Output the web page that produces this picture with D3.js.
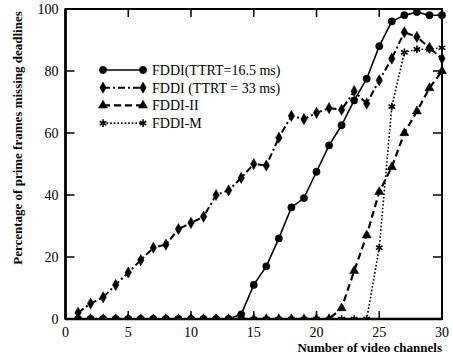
<!DOCTYPE html>
<html>
<head>
<meta charset="utf-8">
<script src="https://cdn.jsdelivr.net/npm/d3@7"></script>
<style>
  body { margin: 0; background: white; }
  svg { display: block; font-family: "Liberation Serif", "DejaVu Serif", serif; }
</style>
</head>
<body>
<svg id="chart"></svg>
<script>
// Percentage of prime frames missing deadlines vs number of video channels
var channels = d3.range(1, 31);

var fddi165 = [0, 0, 0, 0, 0, 0, 0, 0, 0, 0, 0, 0, 0, 1.5, 11, 17, 26, 36, 39, 47.5,
               56, 62.5, 70.5, 77.5, 88, 96, 98, 99, 98, 98];
var fddi33 = [2, 5, 7, 11, 15, 19, 23, 24, 29, 31, 33, 40, 41.5, 45.5, 50, 49.5, 58.5, 65.5, 64.5, 66.5,
              68, 67.5, 73.5, 69.5, 77, 84, 92.5, 91, 87.5, 84];
var fddi2 = [0, 0, 0, 0, 0, 0, 0, 0, 0, 0, 0, 0, 0, 0, 0, 0, 0, 0, 0, 0,
             0, 3.5, 15.5, 27, 41, 49, 60, 67, 74.5, 80];
var fddiM = [0, 0, 0, 0, 0, 0, 0, 0, 0, 0, 0, 0, 0, 0, 0, 0, 0, 0, 0, 0,
             0, 0, 0, 0, 23, 68.5, 86, 87, 87, 87.5];

var seriesNames = ["FDDI(TTRT=16.5 ms)", "FDDI (TTRT = 33 ms)", "FDDI-II", "FDDI-M"];
var xTicks = [0, 5, 10, 15, 20, 25, 30];
var yTicks = [0, 20, 40, 60, 80, 100];

var dimensions = {
    width: 453,
    height: 355,
    margin: { top: 9, bottom: 36, right: 11, left: 65.5 }
};

var svg = d3.select("#chart")
    .attr("width", dimensions.width)
    .attr("height", dimensions.height);

var xScale = d3.scaleLinear()
    .domain([0, 30])
    .range([dimensions.margin.left, dimensions.width - dimensions.margin.right]);

var yScale = d3.scaleLinear()
    .domain([0, 100])
    .range([dimensions.height - dimensions.margin.bottom, dimensions.margin.top]);

var x0 = xScale(0), x1 = xScale(30), y0 = yScale(0), y1 = yScale(100);

svg.append("clipPath")
    .attr("id", "plot-clip")
    .append("rect")
    .attr("x", x0).attr("y", y1 - 6)
    .attr("width", x1 - x0 + 6).attr("height", y0 - y1 + 5);

var series = [
    { name: seriesNames[0], values: fddi165, dash: null, width: 1.6, symbol: d3.symbolCircle, size: 42 },
    { name: seriesNames[1], values: fddi33, dash: "7,3,2,3", width: 2, symbol: d3.symbolDiamond, size: 36 },
    { name: seriesNames[2], values: fddi2, dash: "7,4", width: 2.2, symbol: d3.symbolTriangle, size: 36 },
    { name: seriesNames[3], values: fddiM, dash: "1.6,2", width: 1.6, symbol: d3.symbolAsterisk, size: 40 }
];

var line = d3.line()
    .x(d => xScale(d.x))
    .y(d => yScale(d.y));

var plot = svg.append("g").attr("clip-path", "url(#plot-clip)");

series.forEach(s => {
    var pts = channels.map((c, i) => ({ x: c, y: s.values[i] }));

    plot.append("path")
        .attr("d", line(pts))
        .attr("fill", "none")
        .attr("stroke", "black")
        .attr("stroke-width", s.width)
        .attr("stroke-dasharray", s.dash);

    plot.selectAll(null)
        .data(pts)
        .enter()
        .append("path")
        .attr("transform", d => `translate(${xScale(d.x)},${yScale(d.y)})`)
        .attr("d", d3.symbol().type(s.symbol).size(s.size))
        .attr("fill", "black")
        .attr("stroke", "black")
        .attr("stroke-width", s.symbol === d3.symbolAsterisk ? 1.6 : 0.5);
});

// frame
svg.append("rect")
    .attr("x", x0).attr("y", y1)
    .attr("width", x1 - x0).attr("height", y0 - y1)
    .attr("fill", "none")
    .attr("stroke", "black")
    .attr("stroke-width", 2);

svg.append("line")
    .attr("x1", x0).attr("x2", x0).attr("y1", y1).attr("y2", y0)
    .attr("stroke", "black").attr("stroke-width", 2.6);
svg.append("line")
    .attr("x1", x0).attr("x2", x1).attr("y1", y0).attr("y2", y0)
    .attr("stroke", "black").attr("stroke-width", 2.6);

// inward ticks
svg.selectAll(".xtick-b")
    .data(xTicks.slice(1, -1))
    .enter()
    .append("line")
    .attr("x1", d => xScale(d)).attr("x2", d => xScale(d))
    .attr("y1", y0).attr("y2", y0 - 8)
    .attr("stroke", "black").attr("stroke-width", 1.5);

svg.selectAll(".xtick-t")
    .data(xTicks.slice(1, -1))
    .enter()
    .append("line")
    .attr("x1", d => xScale(d)).attr("x2", d => xScale(d))
    .attr("y1", y1).attr("y2", y1 + 8)
    .attr("stroke", "black").attr("stroke-width", 1.5);

svg.selectAll(".ytick-l")
    .data(yTicks.slice(1, -1))
    .enter()
    .append("line")
    .attr("x1", x0).attr("x2", x0 + 9)
    .attr("y1", d => yScale(d)).attr("y2", d => yScale(d))
    .attr("stroke", "black").attr("stroke-width", 1.5);

svg.selectAll(".ytick-r")
    .data(yTicks.slice(1, -1))
    .enter()
    .append("line")
    .attr("x1", x1).attr("x2", x1 - 9)
    .attr("y1", d => yScale(d)).attr("y2", d => yScale(d))
    .attr("stroke", "black").attr("stroke-width", 1.5);

// tick labels
svg.selectAll(".xlabel")
    .data(xTicks)
    .enter()
    .append("text")
    .attr("x", d => xScale(d))
    .attr("y", y0 + 18)
    .attr("text-anchor", "middle")
    .style("font-size", "14px")
    .text(d => d);

svg.selectAll(".ylabel")
    .data(yTicks)
    .enter()
    .append("text")
    .attr("x", x0 - 7)
    .attr("y", d => yScale(d))
    .attr("dy", "0.35em")
    .attr("text-anchor", "end")
    .style("font-size", "14px")
    .text(d => d);

// axis titles
svg.append("text")
    .attr("x", x1)
    .attr("y", dimensions.height - 3)
    .attr("text-anchor", "end")
    .style("font-size", "13px")
    .style("font-weight", "bold")
    .text("Number of video channels");

svg.append("text")
    .attr("transform", "rotate(-90)")
    .attr("x", -138)
    .attr("y", 22)
    .attr("text-anchor", "middle")
    .style("font-size", "13px")
    .style("font-weight", "bold")
    .text("Percentage of prime frames missing deadlines");

// legend
var legend = svg.selectAll(".legend")
    .data(series)
    .enter()
    .append("g")
    .attr("transform", (d, i) => `translate(0,${70 + i * 17.7})`);

legend.append("line")
    .attr("x1", 103).attr("x2", 143)
    .attr("y1", 0).attr("y2", 0)
    .attr("stroke", "black")
    .attr("stroke-width", d => d.width)
    .attr("stroke-dasharray", d => d.dash);

legend.selectAll(".mk")
    .data(d => [103, 143].map(x => ({ x: x, s: d })))
    .enter()
    .append("path")
    .attr("transform", d => `translate(${d.x},0)`)
    .attr("d", d => d3.symbol().type(d.s.symbol).size(d.s.size)())
    .attr("fill", "black")
    .attr("stroke", "black")
    .attr("stroke-width", d => d.s.symbol === d3.symbolAsterisk ? 1.6 : 0.5);

legend.append("text")
    .attr("x", 152)
    .attr("y", 0)
    .attr("dy", "0.35em")
    .style("font-size", "14px")
    .text(d => d.name);
</script>
</body>
</html>
